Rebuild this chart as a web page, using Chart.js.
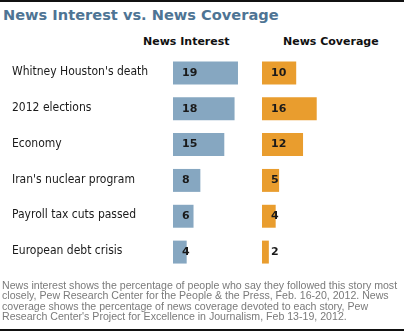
<!DOCTYPE html>
<html>
<head>
<meta charset="utf-8">
<script src="https://cdn.jsdelivr.net/npm/chart.js@4"></script>
<style>
  html, body { margin: 0; padding: 0; background: #fff; }
  #wrap { position: relative; width: 405px; height: 332px; overflow: hidden; }
  #wrap canvas { position: absolute; left: 0; top: 0; }
  .rule { position: absolute; left: 0; width: 404px; height: 2px; background: #111; }
  .title { position: absolute; left: 3px; top: 6px; font: bold 14.6px "DejaVu Sans", sans-serif; color: #4e7494; white-space: nowrap; }
  .head { position: absolute; top: 35px; font: bold 11px "DejaVu Sans", sans-serif; color: #111; white-space: nowrap; }
  .note { position: absolute; left: 2px; top: 280px; font: 10.6px "Liberation Sans", Arial, sans-serif; line-height: 10.3px; color: #7a7a7a; white-space: nowrap; }
</style>
</head>
<body>
<div id="wrap">
  <div class="rule" style="top:0"></div>
  <div class="title">News Interest vs. News Coverage</div>
  <div class="head" style="left:143px">News Interest</div>
  <div class="head" style="left:283px">News Coverage</div>
  <canvas id="chart" width="405" height="332"></canvas>
  <div class="note">News interest shows the percentage of people who say they followed this story most<br>closely, Pew Research Center for the People &amp; the Press, Feb. 16-20, 2012. News<br>coverage shows the percentage of news coverage devoted to each story, Pew<br>Research Center's Project for Excellence in Journalism, Feb 13-19, 2012.</div>
  <div class="rule" style="top:329px"></div>
</div>
<script>
const stories = [
  "Whitney Houston's death",
  "2012 elections",
  "Economy",
  "Iran's nuclear program",
  "Payroll tax cuts passed",
  "European debt crisis"
]
const newsInterest = [19, 18, 15, 8, 6, 4]
const newsCoverage = [10, 16, 12, 5, 4, 2]

const BLUE = "#86a7c1"
const ORANGE = "#e99d2e"

// category names on the left and value labels inside the bars
const labelPlugin = {
  id: "labels",
  afterDatasetsDraw(chart) {
    const ctx = chart.ctx
    const yScale = chart.scales.y
    ctx.save()
    ctx.textBaseline = "middle"
    ctx.textAlign = "left"
    ctx.fillStyle = "#1a1a1a"
    ctx.font = '12px "DejaVu Sans Condensed", "DejaVu Sans", sans-serif'
    stories.forEach((s, i) => {
      ctx.fillText(s, 12, yScale.getPixelForValue(i) - 1)
    })
    ctx.font = 'bold 11px "DejaVu Sans", sans-serif'
    chart.data.datasets.forEach((ds, di) => {
      const meta = chart.getDatasetMeta(di)
      meta.data.forEach((bar, i) => {
        ctx.fillText(String(ds.data[i]), bar.base + 9, bar.y)
      })
    })
    ctx.restore()
  }
}

const pxPerUnit = 3.42
const areaWidth = 405 - 173
const xMax = areaWidth / pxPerUnit
const covShift = (262 - 173) / pxPerUnit

new Chart(document.getElementById("chart").getContext("2d"), {
  type: "bar",
  data: {
    labels: stories,
    datasets: [
      {
        label: "News Interest",
        data: newsInterest,
        backgroundColor: BLUE,
        xAxisID: "x"
      },
      {
        label: "News Coverage",
        data: newsCoverage,
        backgroundColor: ORANGE,
        xAxisID: "x2"
      }
    ]
  },
  options: {
    indexAxis: "y",
    responsive: false,
    animation: false,
    grouped: false,
    categoryPercentage: 1,
    barPercentage: 0.64,
    layout: { padding: { top: 55, bottom: 62, left: 173, right: 0 } },
    plugins: {
      legend: { display: false },
      tooltip: { enabled: false }
    },
    scales: {
      y: { display: false },
      x: { display: false, min: 0, max: xMax },
      x2: { display: false, min: -covShift, max: xMax - covShift }
    }
  },
  plugins: [labelPlugin]
})
</script>
</body>
</html>
